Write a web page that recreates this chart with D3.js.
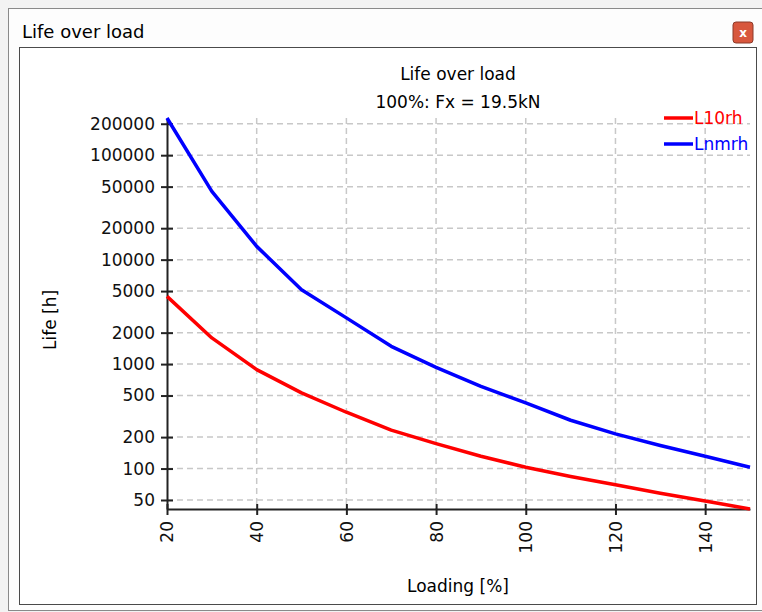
<!DOCTYPE html>
<html>
<head>
<meta charset="utf-8">
<script src="https://cdn.jsdelivr.net/npm/d3@7"></script>
<style>
  body { margin: 0; background: #fff; }
  text { font-family: "DejaVu Sans", sans-serif; }
</style>
</head>
<body>
<div id="canvas"></div>
<script>
// data

const loads = [20, 30, 40, 50, 60, 70, 80, 90, 100, 110, 120, 130, 140, 150];
const l10rh = [4450, 1780, 886, 530, 346, 233, 173, 131, 103, 84, 70, 58, 49, 41];
const lnmrh = [227000, 45000, 13400, 5160, 2770, 1480, 932, 613, 425, 290, 215, 166, 131, 103];
const seriesNames = ['L10rh', 'Lnmrh'];
const seriesColors = ['#ff0000', '#0000ff'];
const xTicks = [20, 40, 60, 80, 100, 120, 140];
const yTicks = [50, 100, 200, 500, 1000, 2000, 5000, 10000, 20000, 50000, 100000, 200000];

// constants

const width = 762;
const height = 612;
const plotLeft = 167;
const plotRight = 750;
const plotTop = 118;
const plotBottom = 509;
const fontSize = 17;

const svg = d3.select('#canvas')
    .append('svg').attr('width', width).attr('height', height);

// window chrome
svg.append('rect').attr('x', 0).attr('y', 0).attr('width', width).attr('height', height).attr('fill', '#f3f3f3');
svg.append('rect').attr('x', 8.5).attr('y', 8.5).attr('width', 760).attr('height', 602)
    .attr('fill', '#fdfdfd').attr('stroke', '#8a8a8a');
svg.append('rect').attr('x', 19.5).attr('y', 47.5).attr('width', 737).attr('height', 557)
    .attr('fill', '#fff').attr('stroke', '#4a4a4a');
svg.append('text').attr('x', 22).attr('y', 38).attr('font-size', 18).attr('fill', '#000')
    .text('Life over load');
const closeBtn = svg.append('g').attr('transform', 'translate(733,22)');
closeBtn.append('rect').attr('width', 20).attr('height', 21).attr('rx', 3)
    .attr('fill', '#d8573d').attr('stroke', '#8c3a2a');
closeBtn.append('text').attr('x', 10).attr('y', 15).attr('text-anchor', 'middle')
    .attr('font-size', 12).attr('font-weight', 'bold').attr('fill', '#fff').text('x');

// Set Scales
const allValues = l10rh.concat(lnmrh);
const xScale = d3.scaleLinear()
    .domain(d3.extent(loads))
    .range([plotLeft, plotRight]);
const yScale = d3.scaleLog()
    .domain(d3.extent(allValues))
    .range([plotBottom, plotTop]);

// grid
const grid = svg.append('g').attr('stroke', '#c8c8c8').attr('stroke-width', 1.5)
    .attr('stroke-dasharray', '6,4');
grid.selectAll('.hgrid').data(yTicks).join('line')
    .attr('x1', plotLeft).attr('x2', plotRight)
    .attr('y1', d => yScale(d)).attr('y2', d => yScale(d));
grid.selectAll('.vgrid').data(xTicks.slice(1)).join('line')
    .attr('y1', plotTop).attr('y2', plotBottom)
    .attr('x1', d => xScale(d)).attr('x2', d => xScale(d));

// Configure Axes
const yAxis = d3.axisLeft(yScale)
    .tickValues(yTicks)
    .tickFormat(d3.format('d'))
    .tickSizeInner(6).tickSizeOuter(0).tickPadding(6);
const xAxis = d3.axisBottom(xScale)
    .tickValues(xTicks)
    .tickSizeInner(6).tickSizeOuter(0).tickPadding(6);

const gy = svg.append('g')
    .attr('transform', `translate(${plotLeft},0)`)
    .call(yAxis);
const gx = svg.append('g')
    .attr('transform', `translate(0,${plotBottom})`)
    .call(xAxis);

[gx, gy].forEach(g => {
  g.select('.domain').attr('stroke', '#222').attr('stroke-width', 2);
  g.selectAll('.tick line').attr('stroke', '#222').attr('stroke-width', 2);
  g.selectAll('.tick text').attr('font-family', '"DejaVu Sans", sans-serif')
      .attr('font-size', fontSize).attr('fill', '#111');
});
// ticks cross the axis line
gy.selectAll('.tick line').attr('x1', 6).attr('x2', -6);
gx.selectAll('.tick line').attr('y1', -5).attr('y2', 6);
gy.selectAll('.tick text').attr('x', -12);
gx.selectAll('.tick text')
    .attr('transform', 'rotate(-90)')
    .attr('text-anchor', 'end')
    .attr('x', -12).attr('y', 0).attr('dy', '0.35em');

// lines
const line = d3.line()
    .x((d, i) => xScale(loads[i]))
    .y(d => yScale(d));
[l10rh, lnmrh].forEach((vals, i) => {
  svg.append('path').datum(vals)
      .attr('fill', 'none')
      .attr('stroke', seriesColors[i])
      .attr('stroke-width', 3.5)
      .attr('stroke-linejoin', 'round')
      .attr('d', line);
});

// titles
svg.append('text').attr('x', 458).attr('y', 80).attr('text-anchor', 'middle')
    .attr('font-size', fontSize).text('Life over load');
svg.append('text').attr('x', 458).attr('y', 108).attr('text-anchor', 'middle')
    .attr('font-size', fontSize).text('100%: Fx = 19.5kN');
svg.append('text').attr('transform', 'translate(56,320) rotate(-90)')
    .attr('text-anchor', 'middle').attr('font-size', fontSize).text('Life [h]');
svg.append('text').attr('x', 458).attr('y', 592).attr('text-anchor', 'middle')
    .attr('font-size', fontSize).text('Loading [%]');

// legend
const legend = svg.append('g').attr('transform', 'translate(664,118)');
seriesNames.forEach((name, i) => {
  const row = legend.append('g').attr('transform', `translate(0,${i * 26})`);
  row.append('line').attr('x1', 0).attr('x2', 29)
      .attr('stroke', seriesColors[i]).attr('stroke-width', 3.5);
  row.append('text').attr('x', 30).attr('y', 0).attr('dy', '0.35em')
      .attr('font-size', fontSize).attr('fill', seriesColors[i]).text(name);
});
</script>
</body>
</html>
